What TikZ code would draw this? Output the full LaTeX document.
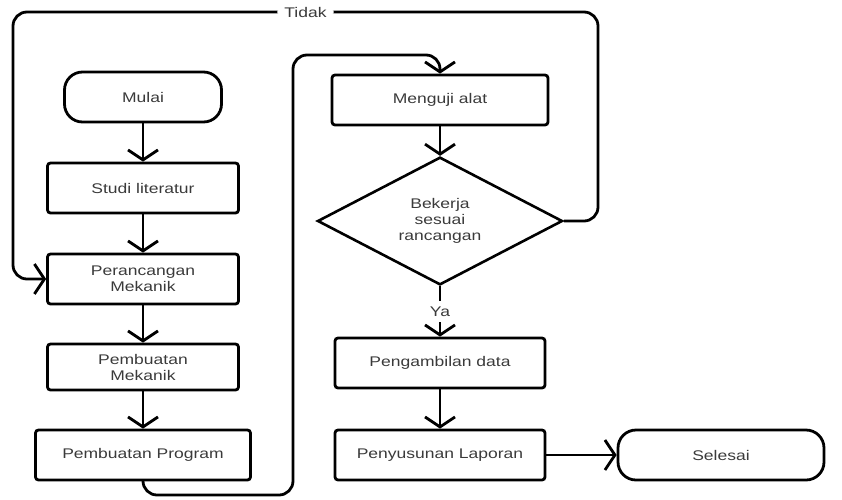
\documentclass[tikz,border=0pt]{standalone}
\usepackage{fontspec}
\setmainfont{Liberation Sans}[FakeStretch=1.25]
\usetikzlibrary{arrows.meta,shapes.geometric}
\definecolor{txt}{HTML}{3A3A3A}
\tikzset{
  box/.style={rectangle, draw, rounded corners=3pt, line width=2.8pt, minimum width=191pt, minimum height=50pt, align=center, text=txt, font=\fontsize{14}{16}\selectfont},
  term/.style={box, rounded corners=18pt},
  cond/.style={diamond, draw, line width=2.6pt, minimum width=245pt, minimum height=112pt, inner sep=0pt, align=center, text=txt, font=\fontsize{14}{16}\selectfont},
  arr/.style={line width=2.8pt, -{Straight Barb[length=10pt, width=30pt, line width=2.8pt]}},
  lbl/.style={fill=white, text=txt, font=\fontsize{14}{16}\selectfont, inner xsep=7pt, inner ysep=6pt}
}
\begin{document}
\begin{tikzpicture}[x=1pt, y=-1pt]
\useasboundingbox (0,0) rectangle (842,499);
\node[term, minimum width=157pt] (mulai) at (143,97){Mulai};
\node[box] (studi) at (143,188){Studi literatur};
\node[box] (rancang) at (143,279){Perancangan\\Mekanik};
\node[box, minimum height=46pt] (buatmek) at (143,367){Pembuatan\\Mekanik};
\node[box, minimum width=215pt] (buatprog) at (143,455){Pembuatan Program};
\node[box, minimum width=216pt] (uji) at (440,100){Menguji alat};
\node[cond] (cek) at (440,221){Bekerja\\sesuai\\rancangan};
\node[box, minimum width=210pt] (data) at (440,363){Pengambilan data};
\node[box, minimum width=210pt] (lapor) at (440,455){Penyusunan Laporan};
\node[term, minimum width=206pt] (selesai) at (721,455){Selesai};
\draw[arr](mulai) -- (studi);
\draw[arr](studi) -- (rancang);
\draw[arr](rancang) -- (buatmek);
\draw[arr](buatmek) -- (buatprog);
\draw[arr, rounded corners=14pt](buatprog.south) -- (143,495) -- (293,495) -- (293,55) -- (440,55) -- (uji.north);
\draw[arr](uji) -- (cek);
\draw[arr, rounded corners=14pt](cek.east) -- (598,221) -- (598,12) -- node[lbl]{Tidak} (13,12) -- (13,279) -- (rancang.west);
\draw[arr](cek.south) -- node[lbl]{Ya} (data.north);
\draw[arr](data) -- (lapor);
\draw[arr](lapor) -- (selesai);
\end{tikzpicture}
\end{document}
